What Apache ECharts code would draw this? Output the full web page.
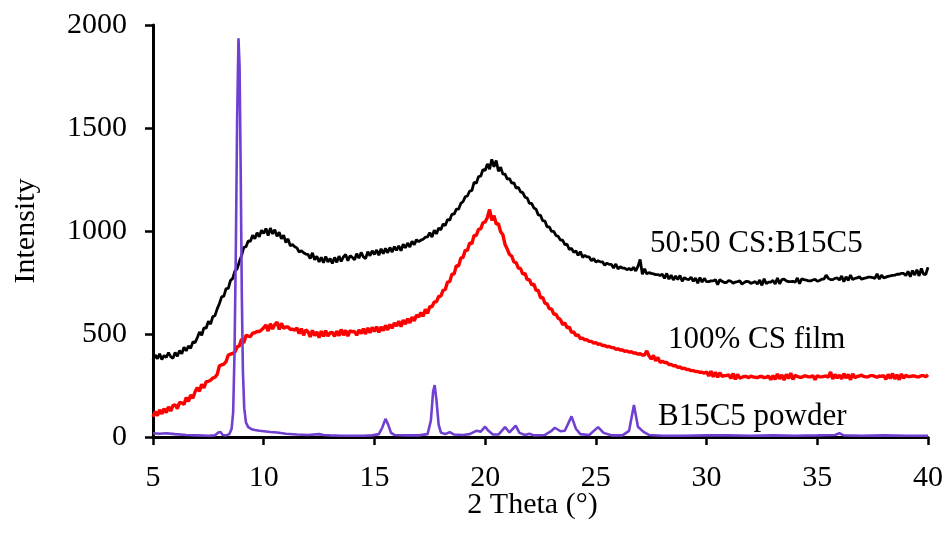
<!DOCTYPE html>
<html>
<head>
<meta charset="utf-8">
<title>XRD patterns</title>
<script src="https://cdn.jsdelivr.net/npm/echarts@6/dist/echarts.min.js"></script>
<style>
  html, body { margin: 0; padding: 0; background: #fff; }
  #chart { width: 948px; height: 538px; }
</style>
</head>
<body>
<div id="chart"></div>
<script>
// Scan grid for the two film patterns: 5.0° to 40.0° in 0.1° steps
const scanStart = 5.0;
const scanStep = 0.1;

// 50:50 CS:B15C5 blend film intensities (one row per degree)
const blendIntensity = [
  372, 398, 380, 404, 376, 396, 386, 410, 390, 382,
  410, 392, 420, 404, 436, 418, 442, 430, 462, 458,
  482, 510, 494, 530, 528, 562, 548, 584, 590, 622,
  648, 680, 684, 720, 722, 760, 770, 806, 816, 852,
  880, 920, 924, 952, 950, 980, 962, 992, 972, 1004,
  988, 1012, 978, 1014, 986, 1006, 974, 994, 962, 980,
  944, 962, 928, 934, 924, 918, 898, 904, 894, 888,
  886, 866, 894, 860, 878, 850, 872, 846, 876, 850,
  866, 842, 872, 848, 878, 852, 874, 886, 856, 880,
  872, 860, 890, 868, 896, 874, 866, 900, 880, 904,
  886, 908, 882, 914, 890, 916, 894, 920, 898, 924,
  906, 928, 904, 936, 918, 942, 922, 950, 934, 958,
  948, 956, 960, 970, 972, 992, 970, 1004, 986, 1014,
  1006, 1034, 1026, 1056, 1052, 1082, 1082, 1106, 1106, 1134,
  1142, 1166, 1170, 1194, 1196, 1236, 1232, 1264, 1266, 1298,
  1294, 1326, 1300, 1348, 1312, 1342, 1290, 1310, 1276, 1276,
  1252, 1254, 1232, 1234, 1208, 1212, 1190, 1186, 1164, 1160,
  1134, 1134, 1112, 1106, 1078, 1076, 1050, 1048, 1020, 1020,
  998, 998, 978, 974, 956, 956, 934, 936, 910, 916,
  896, 904, 882, 900, 872, 882, 874, 874, 856, 866,
  849, 856, 850, 850, 834, 844, 838, 838, 820, 840,
  816, 826, 820, 820, 812, 818, 810, 824, 806, 828,
  862, 790, 816, 792, 798, 794, 792, 788, 788, 784,
  790, 770, 794, 766, 786, 762, 782, 764, 784, 756,
  774, 766, 764, 776, 756, 772, 746, 774, 752, 770,
  754, 754, 758, 758, 764, 740, 764, 756, 750, 750,
  760, 756, 746, 752, 754, 758, 742, 750, 756, 754,
  746, 750, 754, 742, 762, 736, 768, 744, 752, 752,
  760, 742, 772, 744, 764, 766, 758, 754, 754, 756,
  751, 772, 744, 768, 764, 762, 758, 758, 762, 766,
  756, 760, 766, 766, 786, 770, 764, 764, 770, 772,
  762, 782, 754, 778, 760, 786, 764, 770, 772, 778,
  766, 770, 772, 776, 776, 774, 770, 792, 766, 786,
  772, 776, 780, 782, 784, 786, 790, 790, 794, 794,
  784, 804, 778, 808, 786, 812, 782, 818, 790, 790,
  824
];

// 100% CS film intensities (same scan grid)
const csFilmIntensity = [
  98, 124, 104, 132, 112, 138, 118, 146, 126, 152,
  156, 138, 168, 166, 158, 192, 172, 204, 188, 220,
  240, 222, 256, 238, 268, 270, 276, 286, 290, 304,
  346, 350, 354, 366, 398, 402, 406, 412, 438, 442,
  476, 456, 494, 490, 488, 504, 506, 512, 512, 520,
  530, 544, 514, 550, 524, 546, 558, 522, 552, 528,
  534, 534, 522, 524, 518, 530, 502, 526, 494, 520,
  512, 486, 518, 492, 510, 482, 514, 488, 516, 490,
  506, 508, 488, 514, 492, 522, 494, 518, 490, 516,
  511, 512, 494, 520, 502, 526, 500, 530, 506, 532,
  512, 536, 508, 534, 516, 542, 520, 546, 528, 554,
  539, 562, 536, 568, 548, 574, 554, 582, 564, 592,
  582, 604, 586, 620, 600, 634, 632, 656, 656, 682,
  684, 712, 716, 752, 754, 790, 792, 832, 830, 868,
  872, 906, 906, 942, 938, 978, 978, 1008, 1010, 1040,
  1044, 1066, 1104, 1052, 1074, 1034, 1036, 996, 982, 934,
  912, 886, 878, 850, 846, 820, 818, 790, 794, 764,
  764, 738, 742, 712, 712, 676, 678, 650, 646, 622,
  622, 596, 596, 576, 570, 546, 554, 530, 534, 508,
  510, 492, 496, 478, 480, 472, 472, 464, 464, 456,
  458, 450, 452, 444, 444, 438, 440, 434, 434, 426,
  428, 422, 422, 416, 418, 412, 414, 408, 408, 402,
  404, 398, 398, 418, 394, 378, 396, 370, 386, 362,
  368, 362, 362, 352, 352, 346, 346, 338, 340, 332,
  334, 328, 328, 322, 322, 318, 318, 314, 314, 310,
  316, 296, 320, 292, 314, 290, 312, 294, 298, 298,
  302, 284, 308, 280, 304, 286, 290, 294, 294, 288,
  296, 292, 290, 288, 294, 294, 288, 290, 296, 278,
  298, 280, 306, 282, 302, 276, 304, 284, 310, 280,
  299, 294, 290, 290, 296, 296, 292, 292, 298, 278,
  298, 292, 292, 294, 296, 290, 316, 282, 304, 286,
  301, 282, 308, 286, 304, 278, 306, 288, 294, 296,
  300, 294, 292, 292, 298, 298, 294, 290, 296, 294,
  298, 280, 304, 284, 308, 282, 302, 278, 306, 286,
  299, 294, 294, 296, 296, 292, 292, 298, 298, 292,
  302
];

// B15C5 powder pattern: angles and intensities
const powderTheta = [
  5.0, 5.3, 5.6, 6.0, 6.5, 7.0, 7.5, 7.8, 7.95, 8.05, 8.15, 8.3, 8.45, 8.55,
  8.62, 8.68, 8.74, 8.80, 8.86, 8.91, 8.96, 9.01, 9.06, 9.12, 9.2, 9.3, 9.45,
  9.6, 9.8, 10.0, 10.3, 10.6, 11.0, 11.5, 12.0, 12.5, 12.7, 13.0, 13.5, 14.0,
  14.5, 14.9, 15.2, 15.35, 15.5, 15.62, 15.75, 15.9, 16.5, 17.0, 17.4, 17.55,
  17.65, 17.72, 17.8, 17.9, 18.0, 18.2, 18.4, 18.6, 19.0, 19.3, 19.6, 19.8,
  20.0, 20.15, 20.35, 20.6, 20.9, 21.1, 21.38, 21.55, 21.8, 22.0, 22.2, 22.7,
  23.0, 23.15, 23.4, 23.6, 23.9, 24.1, 24.3, 24.7, 25.1, 25.35, 25.7, 26.2,
  26.5, 26.72, 26.9, 27.15, 27.4, 28.0, 29.0, 30.0, 31.0, 32.0, 33.0, 34.0,
  35.0, 35.8, 36.0, 36.2, 37.0, 38.0, 39.0, 40.0
];
const powderIntensity = [
  18, 16, 18, 14, 10, 8, 6, 8, 22, 24, 10, 8, 14, 40,
  120, 400, 900, 1550, 1935, 1800, 1300, 700, 320, 140, 70, 48, 38,
  34, 30, 28, 24, 22, 16, 12, 10, 14, 10, 8, 6, 6,
  6, 8, 14, 45, 88, 60, 20, 10, 8, 8, 14, 80,
  220, 252, 180, 60, 22, 14, 24, 12, 10, 14, 30, 26,
  50, 30, 12, 12, 48, 22, 55, 20, 10, 16, 8, 10,
  30, 45, 28, 30, 100, 40, 14, 10, 48, 20, 8, 8,
  30, 155, 50, 25, 10, 6, 6, 8, 8, 6, 8, 6,
  8, 10, 18, 8, 6, 8, 6, 6
];

// Axis ticks
const xTicks = { min: 5, max: 40, interval: 5 };
const yTicks = { min: 0, max: 2000, interval: 500 };

function scanPairs(values) {
  return values.map((v, i) => [+(scanStart + i * scanStep).toFixed(1), v]);
}
function pairs(xs, ys) {
  return xs.map((x, i) => [x, ys[i]]);
}

const serif = '"Liberation Serif", "Times New Roman", serif';
const chart = echarts.init(document.getElementById('chart'), null, { renderer: 'canvas' });

const axisCommon = {
  axisLine: { show: true, onZero: false, lineStyle: { color: '#000', width: 3 } },
  axisTick: { show: true, inside: false, length: 8, lineStyle: { color: '#000', width: 2.5 } },
  splitLine: { show: false },
  nameMoveOverlap: false
};
const tickLabel = { color: '#000', fontFamily: serif, fontSize: 30, formatter: v => String(v) };

chart.setOption({
  animation: false,
  backgroundColor: '#fff',
  grid: { left: 153, right: 20, top: 25, bottom: 101, containLabel: false },
  xAxis: Object.assign({}, axisCommon, {
    type: 'value',
    min: xTicks.min, max: xTicks.max, interval: xTicks.interval,
    name: '2 Theta (°)', nameLocation: 'middle', nameGap: 53,
    nameTextStyle: { color: '#000', fontFamily: serif, fontSize: 30, padding: [0, 16, 0, 0] },
    axisLabel: Object.assign({}, tickLabel, { margin: 26 })
  }),
  yAxis: Object.assign({}, axisCommon, {
    type: 'value',
    min: yTicks.min, max: yTicks.max, interval: yTicks.interval,
    name: 'Intensity', nameLocation: 'middle', nameGap: 112,
    nameTextStyle: { color: '#000', fontFamily: serif, fontSize: 30 },
    axisLabel: Object.assign({}, tickLabel, { margin: 26 })
  }),
  series: [
    {
      name: '50:50 CS:B15C5', type: 'line', data: scanPairs(blendIntensity),
      showSymbol: false, lineStyle: { color: '#000', width: 2.8 }, z: 3
    },
    {
      name: '100% CS film', type: 'line', data: scanPairs(csFilmIntensity),
      showSymbol: false, lineStyle: { color: '#ff0000', width: 3.4 }, z: 2
    },
    {
      name: 'B15C5 powder', type: 'line', data: pairs(powderTheta, powderIntensity),
      showSymbol: false, lineStyle: { color: '#7040d0', width: 2.6 }, z: 4
    }
  ],
  graphic: [
    { type: 'text', left: 650, top: 228, style: { text: '50:50 CS:B15C5', font: '31px ' + serif, fill: '#000' } },
    { type: 'text', left: 668, top: 324, style: { text: '100% CS film', font: '31px ' + serif, fill: '#000' } },
    { type: 'text', left: 658, top: 401, style: { text: 'B15C5 powder', font: '31px ' + serif, fill: '#000' } }
  ]
});
</script>
</body>
</html>
